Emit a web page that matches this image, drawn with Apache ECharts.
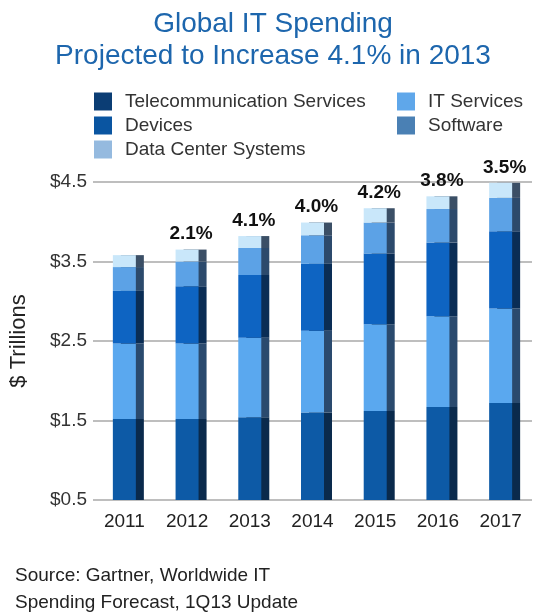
<!DOCTYPE html>
<html>
<head>
<meta charset="utf-8">
<script src="https://cdn.jsdelivr.net/npm/echarts@6/dist/echarts.min.js"></script>
<style>
  html, body { margin: 0; padding: 0; background: #fff; }
  #main { width: 546px; height: 616px; }
</style>
</head>
<body>
<div id="main"></div>
<script>
var years = ['2011', '2012', '2013', '2014', '2015', '2016', '2017'];
// $ trillions
var telecom    = [1.52, 1.52, 1.54, 1.60, 1.62, 1.67, 1.72];
var itServices = [0.95, 0.95, 1.00, 1.03, 1.09, 1.14, 1.19];
var devices    = [0.66, 0.72, 0.79, 0.84, 0.89, 0.93, 0.97];
var software   = [0.30, 0.31, 0.34, 0.36, 0.39, 0.42, 0.42];
var dataCenter = [0.15, 0.15, 0.15, 0.16, 0.18, 0.16, 0.19];
var growth = ['', '2.1%', '4.1%', '4.0%', '4.2%', '3.8%', '3.5%'];

var myChart = echarts.init(document.getElementById('main'));

// fake a 3d side face with a hard offset shadow
function bar(name, data, color, side) {
    return {
        name: name,
        type: 'bar',
        stack: 'total',
        barWidth: 23,
        data: data,
        itemStyle: {
            color: color,
            shadowColor: side,
            shadowOffsetX: 8,
            shadowOffsetY: 0,
            shadowBlur: 0
        }
    };
}

var topSeries = bar('Data Center Systems', dataCenter, '#c9e7fa', '#3b4f66');
topSeries.label = {
    show: true,
    position: 'top',
    distance: 6,
    offset: [4, 0],
    color: '#111',
    fontSize: 19,
    fontWeight: 'bold',
    fontFamily: 'Liberation Sans',
    formatter: function (p) { return growth[p.dataIndex]; }
};

var legendText = {
    fontSize: 19,
    color: '#333',
    fontFamily: 'Liberation Sans',
    padding: [0, 0, 0, 8]
};

myChart.setOption({
    animation: false,
    title: {
        text: 'Global IT Spending\nProjected to Increase 4.1% in 2013',
        left: 'center',
        top: 3,
        textStyle: {
            color: '#1d66ad',
            fontSize: 28,
            fontWeight: 'normal',
            lineHeight: 32,
            fontFamily: 'Liberation Sans'
        }
    },
    legend: [{
        orient: 'vertical',
        left: 89,
        top: 87,
        itemWidth: 18,
        itemHeight: 18,
        itemGap: 5,
        textStyle: legendText,
        data: [
            { name: 'Telecommunication Services', icon: 'rect', itemStyle: { color: '#0b3d74' } },
            { name: 'Devices', icon: 'rect', itemStyle: { color: '#0a55a1' } },
            { name: 'Data Center Systems', icon: 'rect', itemStyle: { color: '#95badf' } }
        ]
    }, {
        orient: 'vertical',
        left: 392,
        top: 87,
        itemWidth: 18,
        itemHeight: 18,
        itemGap: 5,
        textStyle: legendText,
        data: [
            { name: 'IT Services', icon: 'rect', itemStyle: { color: '#5fa7ea' } },
            { name: 'Software', icon: 'rect', itemStyle: { color: '#4a80b4' } }
        ]
    }],
    graphic: [{
        type: 'text',
        left: 15,
        top: 562,
        style: {
            text: 'Source: Gartner, Worldwide IT\nSpending Forecast, 1Q13 Update',
            font: '19px "Liberation Sans"',
            lineHeight: 27,
            fill: '#222'
        }
    }],
    grid: {
        left: 92,
        right: 14,
        top: 182,
        bottom: 116
    },
    xAxis: {
        type: 'category',
        data: years,
        axisLine: { show: false },
        axisTick: { show: false },
        axisLabel: {
            color: '#222',
            fontSize: 19,
            fontFamily: 'Liberation Sans',
            margin: 12
        }
    },
    yAxis: {
        type: 'value',
        name: '$ Trillions',
        nameLocation: 'middle',
        nameGap: 63,
        nameRotate: 90,
        nameTextStyle: { color: '#222', fontSize: 22, fontFamily: 'Liberation Sans' },
        min: 0.5,
        max: 4.5,
        interval: 1,
        axisLine: { show: false },
        axisTick: { show: false },
        axisLabel: {
            color: '#333',
            fontSize: 19,
            fontFamily: 'Liberation Sans',
            margin: 6,
            formatter: function (v) { return '$' + v.toFixed(1); }
        },
        splitLine: { lineStyle: { color: '#a8a8a8', width: 1.5 } }
    },
    series: [
        bar('Telecommunication Services', telecom, '#0d5aa6', '#0a2a4c'),
        bar('IT Services', itServices, '#5aa8ef', '#2a4a6e'),
        bar('Devices', devices, '#0e64c2', '#0a2d55'),
        bar('Software', software, '#5ca2e6', '#2c4a6c'),
        topSeries
    ]
});
</script>
</body>
</html>
